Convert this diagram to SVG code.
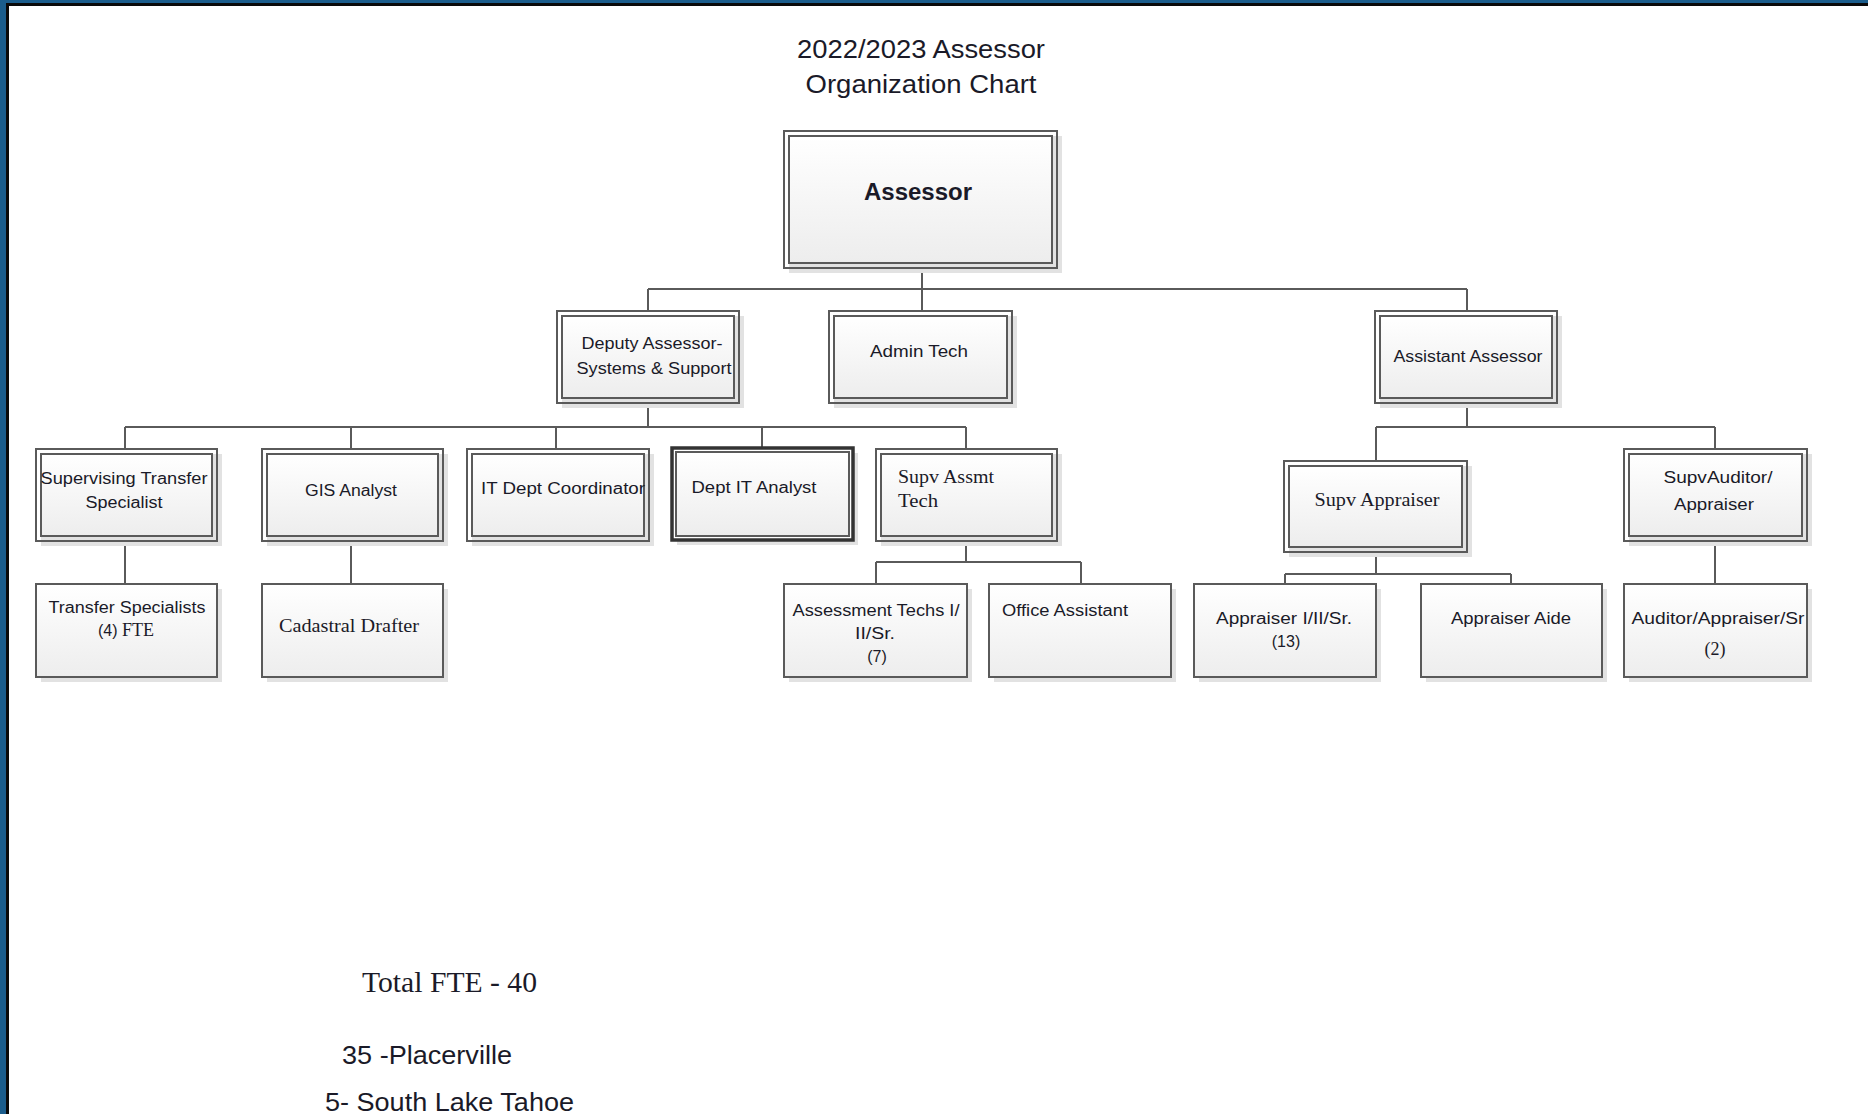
<svg xmlns="http://www.w3.org/2000/svg" width="1868" height="1114" viewBox="0 0 1868 1114">
<style>
.o{fill:none;stroke:#5a5a5a;stroke-width:2}
.i{fill:url(#g);stroke:#5a5a5a;stroke-width:2}
.s{fill:#e2e2e2}
.b{fill:url(#g);stroke:#5a5a5a;stroke-width:2}
.c{fill:none;stroke:#5a5a5a;stroke-width:2}
text{font-family:"Liberation Sans",Arial,sans-serif;font-size:16px;fill:#1a1a28}
.m{text-anchor:middle}
.sf{font-family:"Liberation Serif","Times New Roman",serif}
.s18{font-size:18px}
.t{font-size:25px}
.big{font-size:23px;font-weight:bold}
.tot{font-size:30px}
.loc{font-size:26px}
</style>
<defs>
<linearGradient id="g" x1="0" y1="0" x2="0" y2="1">
<stop offset="0" stop-color="#ffffff"/>
<stop offset="1" stop-color="#ededed"/>
</linearGradient>
</defs>
<rect x="0" y="0" width="1868" height="1114" fill="#ffffff"/>
<rect x="0" y="0" width="1868" height="3" fill="#1b5d8c"/>
<rect x="0" y="0" width="6" height="1114" fill="#1b5d8c"/>
<rect x="6" y="3" width="1862" height="3" fill="#0a0a0a"/>
<rect x="6" y="3" width="3" height="1111" fill="#0a0a0a"/>

<g id="title">
<text class="m t" x="921" y="58" textLength="248" lengthAdjust="spacingAndGlyphs">2022/2023 Assessor</text>
<text class="m t" x="921" y="93" textLength="231" lengthAdjust="spacingAndGlyphs">Organization Chart</text>
</g>

<g id="connectors">
<path class="c" d="M922,268V289M648,289H1467M648,289V311M922,289V311M1467,289V311"/>
<path class="c" d="M648,403V427M125,427H966M125,427V449M351,427V449M556,427V449M762,427V448M966,427V449"/>
<path class="c" d="M1467,403V427M1376,427H1715M1376,427V461M1715,427V449"/>
<path class="c" d="M125,541V584M351,541V584"/>
<path class="c" d="M966,541V562M876,562H1081M876,562V584M1081,562V584"/>
<path class="c" d="M1376,552V574M1285,574H1511M1285,574V584M1511,574V584"/>
<path class="c" d="M1715,541V584"/>
</g>

<g id="assessor">
<rect class="s" x="789" y="136" width="273" height="137"/>
<rect class="o" x="784" y="131" width="273" height="137" fill="#fff"/>
<rect class="i" x="789" y="136" width="263" height="127"/>
<text class="m big" x="918" y="200" textLength="108" lengthAdjust="spacingAndGlyphs">Assessor</text>
</g>

<g id="deputy">
<rect class="s" x="562" y="316" width="182" height="92"/>
<rect class="o" x="557" y="311" width="182" height="92" fill="#fff"/>
<rect class="i" x="562" y="316" width="172" height="82"/>
<text class="m" x="652" y="349" textLength="141" lengthAdjust="spacingAndGlyphs">Deputy Assessor-</text>
<text class="m" x="654" y="374" textLength="155" lengthAdjust="spacingAndGlyphs">Systems &amp; Support</text>
</g>

<g id="admin-tech">
<rect class="s" x="834" y="316" width="183" height="92"/>
<rect class="o" x="829" y="311" width="183" height="92" fill="#fff"/>
<rect class="i" x="834" y="316" width="173" height="82"/>
<text class="m" x="919" y="357" textLength="98" lengthAdjust="spacingAndGlyphs">Admin Tech</text>
</g>

<g id="assistant-assessor">
<rect class="s" x="1380" y="316" width="182" height="92"/>
<rect class="o" x="1375" y="311" width="182" height="92" fill="#fff"/>
<rect class="i" x="1380" y="316" width="172" height="82"/>
<text class="m" x="1468" y="362" textLength="149" lengthAdjust="spacingAndGlyphs">Assistant Assessor</text>
</g>

<g id="sup-transfer">
<rect class="s" x="41" y="454" width="181" height="92"/>
<rect class="o" x="36" y="449" width="181" height="92" fill="#fff"/>
<rect class="i" x="41" y="454" width="171" height="82"/>
<text class="m" x="124" y="484" textLength="167" lengthAdjust="spacingAndGlyphs">Supervising Transfer</text>
<text class="m" x="124" y="508" textLength="77" lengthAdjust="spacingAndGlyphs">Specialist</text>
</g>

<g id="gis-analyst">
<rect class="s" x="267" y="454" width="181" height="92"/>
<rect class="o" x="262" y="449" width="181" height="92" fill="#fff"/>
<rect class="i" x="267" y="454" width="171" height="82"/>
<text class="m" x="351" y="496" textLength="92" lengthAdjust="spacingAndGlyphs">GIS Analyst</text>
</g>

<g id="it-coordinator">
<rect class="s" x="472" y="454" width="182" height="92"/>
<rect class="o" x="467" y="449" width="182" height="92" fill="#fff"/>
<rect class="i" x="472" y="454" width="172" height="82"/>
<text x="481" y="494" textLength="164" lengthAdjust="spacingAndGlyphs">IT Dept Coordinator</text>
</g>

<g id="dept-it-analyst">
<rect class="s" x="677" y="453" width="181" height="92"/>
<rect x="672" y="448" width="181" height="92" fill="#fff" stroke="#333" stroke-width="3.5"/>
<rect class="i" x="676" y="452" width="173" height="84"/>
<text class="m" x="754" y="493" textLength="125" lengthAdjust="spacingAndGlyphs">Dept IT Analyst</text>
</g>

<g id="supv-assmt-tech">
<rect class="s" x="881" y="454" width="181" height="92"/>
<rect class="o" x="876" y="449" width="181" height="92" fill="#fff"/>
<rect class="i" x="881" y="454" width="171" height="82"/>
<text class="sf s18" x="898" y="483" textLength="96" lengthAdjust="spacingAndGlyphs">Supv Assmt</text>
<text class="sf s18" x="898" y="507" textLength="40" lengthAdjust="spacingAndGlyphs">Tech</text>
</g>

<g id="supv-appraiser">
<rect class="s" x="1289" y="466" width="183" height="91"/>
<rect class="o" x="1284" y="461" width="183" height="91" fill="#fff"/>
<rect class="i" x="1289" y="466" width="173" height="81"/>
<text class="m sf s18" x="1377" y="506" textLength="125" lengthAdjust="spacingAndGlyphs">Supv Appraiser</text>
</g>

<g id="supv-auditor">
<rect class="s" x="1629" y="454" width="183" height="92"/>
<rect class="o" x="1624" y="449" width="183" height="92" fill="#fff"/>
<rect class="i" x="1629" y="454" width="173" height="82"/>
<text class="m" x="1718" y="483" textLength="109" lengthAdjust="spacingAndGlyphs">SupvAuditor/</text>
<text class="m" x="1714" y="510" textLength="80" lengthAdjust="spacingAndGlyphs">Appraiser</text>
</g>

<g id="transfer-specialists">
<rect class="s" x="41" y="589" width="181" height="93"/>
<rect class="b" x="36" y="584" width="181" height="93"/>
<text class="m" x="127" y="613" textLength="157" lengthAdjust="spacingAndGlyphs">Transfer Specialists</text>
<text x="98" y="636">(4) <tspan class="sf s18">FTE</tspan></text>
</g>

<g id="cadastral-drafter">
<rect class="s" x="267" y="589" width="181" height="93"/>
<rect class="b" x="262" y="584" width="181" height="93"/>
<text class="m sf s18" x="349" y="632" textLength="140" lengthAdjust="spacingAndGlyphs">Cadastral Drafter</text>
</g>

<g id="assessment-techs">
<rect class="s" x="789" y="589" width="183" height="93"/>
<rect class="b" x="784" y="584" width="183" height="93"/>
<text class="m" x="876" y="616" textLength="167" lengthAdjust="spacingAndGlyphs">Assessment Techs I/</text>
<text class="m" x="875" y="639" textLength="40" lengthAdjust="spacingAndGlyphs">II/Sr.</text>
<text class="m" x="877" y="662">(7)</text>
</g>

<g id="office-assistant">
<rect class="s" x="994" y="589" width="182" height="93"/>
<rect class="b" x="989" y="584" width="182" height="93"/>
<text x="1002" y="616" textLength="126" lengthAdjust="spacingAndGlyphs">Office Assistant</text>
</g>

<g id="appraiser">
<rect class="s" x="1199" y="589" width="182" height="93"/>
<rect class="b" x="1194" y="584" width="182" height="93"/>
<text class="m" x="1284" y="624" textLength="136" lengthAdjust="spacingAndGlyphs">Appraiser I/II/Sr.</text>
<text class="m" x="1286" y="647">(13)</text>
</g>

<g id="appraiser-aide">
<rect class="s" x="1426" y="589" width="181" height="93"/>
<rect class="b" x="1421" y="584" width="181" height="93"/>
<text class="m" x="1511" y="624" textLength="120" lengthAdjust="spacingAndGlyphs">Appraiser Aide</text>
</g>

<g id="auditor-appraiser">
<rect class="s" x="1629" y="589" width="183" height="93"/>
<rect class="b" x="1624" y="584" width="183" height="93"/>
<text class="m" x="1718" y="624" textLength="173" lengthAdjust="spacingAndGlyphs">Auditor/Appraiser/Sr</text>
<text class="m sf s18" x="1715" y="655">(2)</text>
</g>

<g id="totals">
<text class="sf tot" x="362" y="992" textLength="175" lengthAdjust="spacingAndGlyphs">Total FTE - 40</text>
<text class="loc" x="342" y="1064" textLength="170" lengthAdjust="spacingAndGlyphs">35 -Placerville</text>
<text class="loc" x="325" y="1111" textLength="249" lengthAdjust="spacingAndGlyphs">5- South Lake Tahoe</text>
</g>
</svg>
